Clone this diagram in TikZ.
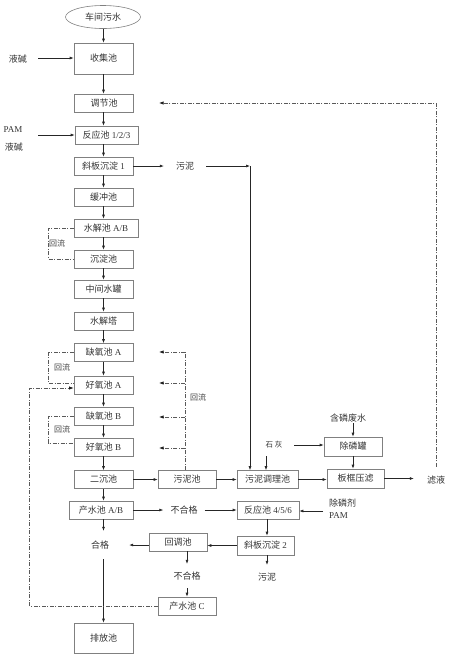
\documentclass[tikz,border=0pt]{standalone}
\usepackage{fontspec}
\setmainfont{Liberation Serif}
\newfontfamily\cjk{Noto Sans CJK SC}
\newcommand{\zh}[1]{{\cjk #1}}
\usetikzlibrary{arrows.meta,shapes.geometric}
\begin{document}
\begin{tikzpicture}[x=1pt,y=-1pt,
  box/.style={draw=black!50, line width=0.6pt, minimum width=59pt, minimum height=18pt, inner sep=0pt, font=\fontsize{9}{10}\selectfont, text=black!80},
  oval/.style={draw=black!50, line width=0.6pt, ellipse, minimum width=75pt, minimum height=23pt, inner sep=0pt, font=\fontsize{9}{10}\selectfont, text=black!80},
  lbl/.style={inner sep=1pt, font=\fontsize{9}{10}\selectfont, text=black!80},
  small/.style={inner sep=1pt, font=\fontsize{8}{9}\selectfont, text=black!75},
  arr/.style={draw=black!85, line width=0.6pt, -{Latex[length=4pt,width=3pt]}},
  dd/.style={draw=black!65, line width=0.6pt, dash pattern=on 4pt off 1.5pt on 1pt off 1.5pt},
  dda/.style={dd, -{Latex[length=4.5pt,width=3.2pt,color=black!90]}},
]
\useasboundingbox (0,0) rectangle (450,657);
\coordinate (mx) at (103.5,0);

% main column
\node[oval] (ws) at (103,17) {\zh{车间污水}};
\node[box, minimum height=31pt] (sj) at (103.5,58.5) {\zh{收集池}};
\node[box] (tj) at (104,103) {\zh{调节池}};
\node[box, minimum width=63pt] (fy1) at (106.5,135) {\zh{反应池} 1/2/3};
\node[box] (xb1) at (103.5,166) {\zh{斜板沉淀} 1};
\node[box] (hc) at (103.5,197) {\zh{缓冲池}};
\node[box, minimum width=64pt] (sjc) at (106,228) {\zh{水解池} A/B};
\node[box] (cd) at (103.5,259) {\zh{沉淀池}};
\node[box] (zj) at (103.5,289) {\zh{中间水罐}};
\node[box] (sjt) at (103.5,321) {\zh{水解塔}};
\node[box] (qa) at (103.5,352.5) {\zh{缺氧池} A};
\node[box] (ha) at (103.5,385) {\zh{好氧池} A};
\node[box] (qb) at (103.5,416) {\zh{缺氧池} B};
\node[box] (hb) at (103.5,447) {\zh{好氧池} B};
\node[box] (ec) at (103.5,479.5) {\zh{二沉池}};
\node[box, minimum width=64pt] (cs) at (101,510) {\zh{产水池} A/B};
\node[lbl, minimum width=58pt, minimum height=28pt] (hg) at (100,545) {\zh{合格}};
\node[box, minimum height=30pt] (pf) at (103.5,638) {\zh{排放池}};

\foreach \a/\b in {ws/sj, sj/tj, tj/fy1, fy1/xb1, xb1/hc, hc/sjc, sjc/cd, cd/zj, zj/sjt, sjt/qa, qa/ha, ha/qb, qb/hb, hb/ec, ec/cs, cs/hg, hg/pf}
  \draw[arr] (\a.south -| mx) -- (\b.north -| mx);

% left inputs
\node[lbl] (yj1) at (18,59) {\zh{液碱}};
\node[lbl] (pam1) at (13,130) {PAM};
\node[lbl] (yj2) at (14,147) {\zh{液碱}};
\coordinate (a1) at (38,58);
\coordinate (a2) at (38,135);
\draw[arr] (a1) -- (sj.west |- a1);
\draw[arr] (a2) -- (fy1.west |- a2);

% sludge 1
\node[lbl, minimum width=42pt] (wn1) at (185,166) {\zh{污泥}};
\coordinate (c1) at (250,166);
\draw[arr] (xb1.east) -- (wn1.west);
\draw[arr] (wn1.east) -- (c1);

% right side boxes
\node[box, minimum width=58pt] (wnc) at (187,479.5) {\zh{污泥池}};
\node[box, minimum width=61pt] (tl) at (267.5,479.5) {\zh{污泥调理池}};
\node[box, minimum width=62pt] (fy2) at (268,510) {\zh{反应池} 4/5/6};
\node[box, minimum width=57pt, minimum height=19pt] (xb2) at (265.5,545.5) {\zh{斜板沉淀} 2};
\node[lbl, minimum height=24pt] (wn2) at (267,577) {\zh{污泥}};
\node[box, minimum width=58pt] (hd) at (178,542) {\zh{回调池}};
\node[lbl, minimum height=24pt] (bh2) at (187,576) {\zh{不合格}};
\node[box, minimum width=58pt] (csc) at (187,606) {\zh{产水池} C};
\node[lbl, minimum width=41pt] (bh1) at (184,510) {\zh{不合格}};
\node[box, minimum width=58pt, minimum height=19pt] (cl) at (353,446.5) {\zh{除磷罐}};
\node[box, minimum width=57pt, minimum height=19pt] (bk) at (355.5,478.5) {\zh{板框压滤}};
\node[lbl] (hl) at (348,418) {\zh{含磷废水}};
\node[lbl, font=\fontsize{7.5}{9}\selectfont, minimum width=40pt, minimum height=22pt] (sh) at (274,445) {\zh{石\ 灰}};
\node[lbl, minimum width=44pt, minimum height=26pt] (lq) at (436,480) {\zh{滤液}};
\node[lbl, anchor=west] (clj) at (328,503) {\zh{除磷剂}};
\node[lbl, anchor=west] (pam2) at (328,516) {PAM};

\draw[arr] (c1) -- (tl.north -| c1);
\draw[arr] (ec.east) -- (wnc.west);
\draw[arr] (wnc.east) -- (tl.west);
\draw[arr] (tl.east) -- (bk.west |- tl.east);
\draw[arr] (bk.east) -- (lq.west |- bk.east);
\draw[arr] (hl.south -| cl.north) -- (cl.north);
\draw[arr] (cl.south) -- (bk.north -| cl.south);
\draw[arr] (sh.east) -- (cl.west |- sh.east);
\coordinate (s1) at (266,0);
\draw[arr] (sh.south -| s1) -- (tl.north -| s1);
\draw[arr] (cs.east) -- (bh1.west);
\draw[arr] (bh1.east) -- (fy2.west);
\coordinate (a3) at (323,511);
\draw[arr] (a3) -- (fy2.east |- a3);
\coordinate (s2) at (267,0);
\draw[arr] (fy2.south -| s2) -- (xb2.north -| s2);
\draw[arr] (xb2.south -| s2) -- (wn2.north);
\draw[arr] (xb2.west) -- (hd.east |- xb2.west);
\draw[arr] (hd.west |- hg) -- (hg.east);
\draw[arr] (hd.south -| bh2) -- (bh2.north);
\draw[arr] (bh2.south) -- (csc.north);

% filtrate return
\coordinate (tr) at (159,103);
\draw[dda] (lq.north) |- (tr);

% left recycle loops
\draw[dd] (sjc.west) -- ++(-25,0) |- (cd.west);
\draw[dd] (qa.west) -- ++(-25,0) |- ([yshift=2pt]ha.west);
\draw[dd] (qb.west) -- ++(-25,0) |- ([yshift=4pt]hb.west);
\node[small] (hl1) at (57,243) {\zh{回流}};
\node[small] (hl2) at (62,367) {\zh{回流}};
\node[small] (hl3) at (62,429) {\zh{回流}};

% long return from 产水池 C
\draw[dda] (csc.west) -- ++(-128,0) |- ([yshift=-3pt]ha.west);

% right recycle from 污泥池
\coordinate (r1) at (185,352);
\coordinate (r2) at (185,383);
\coordinate (r3) at (185,417);
\coordinate (r4) at (185,448);
\coordinate (t1) at (159,352);
\coordinate (t2) at (159,383);
\coordinate (t3) at (159,417);
\coordinate (t4) at (159,448);
\draw[dd] (wnc.north -| r1) -- (r1);
\draw[dda] (r1) -- (t1);
\draw[dda] (r2) -- (t2);
\draw[dda] (r3) -- (t3);
\draw[dda] (r4) -- (t4);
\node[small] (hl4) at (198,397) {\zh{回流}};
\end{tikzpicture}
\end{document}
